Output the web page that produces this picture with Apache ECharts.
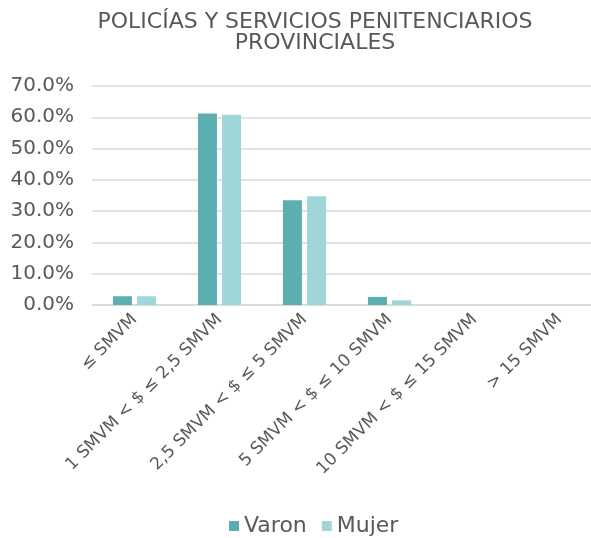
<!DOCTYPE html>
<html>
<head>
<meta charset="utf-8">
<script src="https://cdn.jsdelivr.net/npm/echarts@6/dist/echarts.min.js"></script>
<style>
  html, body { margin: 0; padding: 0; background: #fff; }
  #chart { width: 591px; height: 538px; }
</style>
</head>
<body>
<div id="chart"></div>
<script>
// categorías de ingreso
const categories = ['≤ SMVM', '1 SMVM < $ ≤ 2,5 SMVM', '2,5 SMVM < $ ≤ 5 SMVM', '5 SMVM < $ ≤ 10 SMVM', '10 SMVM < $ ≤ 15 SMVM', '> 15 SMVM'];
// porcentajes
const varon = [2.8, 61.2, 33.5, 2.6, 0, 0];
const mujer = [2.8, 60.8, 34.8, 1.5, 0, 0];

const font = 'DejaVu Sans';
const grey = '#595959';

let chart = echarts.init(document.getElementById('chart'));

let option = {
  animation: false,
  color: ['#5BAFB0', '#A0D6D7'],
  title: {
    text: 'POLICÍAS Y SERVICIOS PENITENCIARIOS\nPROVINCIALES',
    left: 310,
    textAlign: 'center',
    top: 7,
    textStyle: {
      fontFamily: font,
      fontWeight: 'normal',
      fontSize: 22,
      lineHeight: 21,
      color: grey
    }
  },
  legend: {
    data: ['Varon', 'Mujer'],
    bottom: -4,
    left: 224,
    itemWidth: 10,
    itemHeight: 10,
    itemGap: 15,
    icon: 'rect',
    textStyle: { fontFamily: font, fontSize: 22, color: grey }
  },
  grid: {
    left: 92,
    right: -11,
    top: 86,
    bottom: 233,
    outerBoundsMode: 'none'
  },
  xAxis: {
    type: 'category',
    data: categories,
    axisTick: { show: false },
    axisLine: { lineStyle: { color: '#d9d9d9', width: 1.5 } },
    axisLabel: {
      rotate: 45,
      interval: 0,
      margin: 12,
      fontFamily: font,
      fontSize: 17,
      color: grey
    }
  },
  yAxis: {
    type: 'value',
    min: 0,
    max: 70,
    interval: 10,
    axisLine: { show: false },
    axisTick: { show: false },
    splitLine: { lineStyle: { color: '#d9d9d9', width: 1.5 } },
    axisLabel: {
      margin: 18,
      fontFamily: font,
      fontSize: 20,
      color: grey,
      formatter: function (v) { return v.toFixed(1) + '%'; }
    }
  },
  series: [
    {
      name: 'Varon',
      type: 'bar',
      barWidth: 19,
      barGap: '27%',
      data: varon
    },
    {
      name: 'Mujer',
      type: 'bar',
      barWidth: 19,
      data: mujer
    }
  ]
};

chart.setOption(option);
</script>
</body>
</html>
